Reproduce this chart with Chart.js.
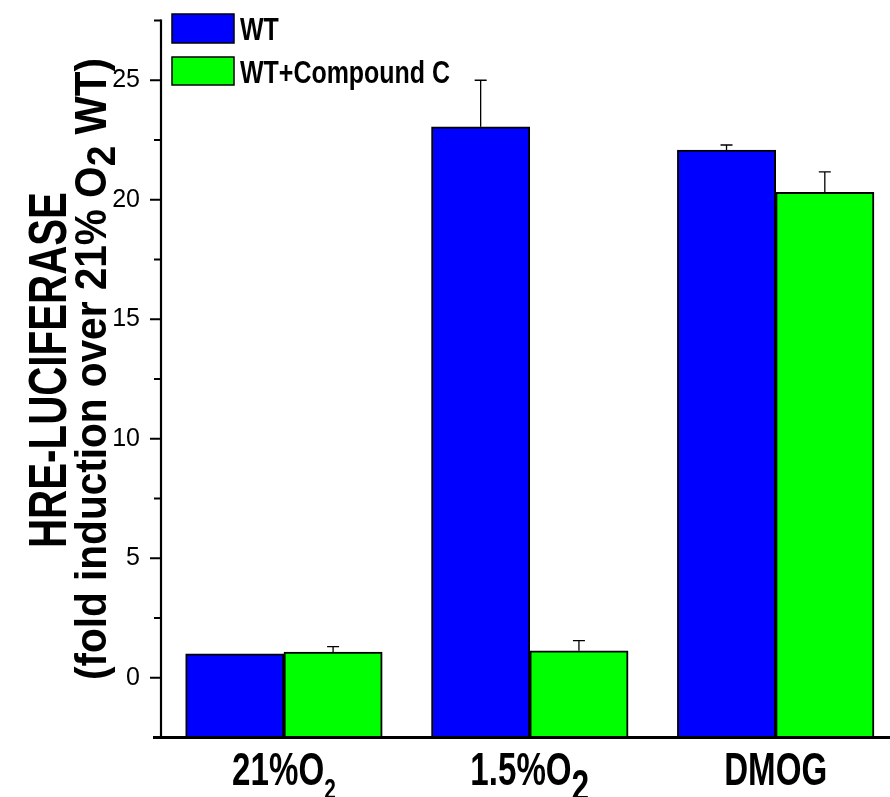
<!DOCTYPE html>
<html><head><meta charset="utf-8">
<script src="https://cdn.jsdelivr.net/npm/chart.js@4.4.0/dist/chart.umd.min.js"></script>
<style>html,body{margin:0;padding:0;background:#fff;overflow:hidden}#wrap{width:890px;height:797px;position:relative}</style>
</head><body><div id="wrap"><canvas id="c" width="890" height="797"></canvas></div>
<script>
// ---- data ----
const categories = [["21%O", "2"], ["1.5%O", "2"], ["DMOG", ""]];
const seriesNames = ["WT", "WT+Compound C"];
const wtValues = [1.0, 23.05, 22.08];
const wtErrors = [0, 1.95, 0.21];
const ccValues = [1.07, 1.13, 20.31];
const ccErrors = [0.23, 0.42, 0.86];
const majorTicks = [0, 5, 10, 15, 20, 25];
const minorTicks = [-2.5, 2.5, 7.5, 12.5, 17.5, 22.5, 27.5];
const yTitleLine1 = "HRE-LUCIFERASE";
const yTitleLine2 = ["(fold induction over 21% O", "2", " WT)"];

// ---- styles ----
const FONT = '"Liberation Sans", Arial, Helvetica, sans-serif';
const colors = ['#0000ff', '#00ff00'];
const subScale = [0.62, 0.95, 0];

function drawParts(ctx, parts, x, y, align, sx, fitLen) {
  let w = 0;
  parts.forEach(p => { ctx.font = 'bold ' + p.size + 'px ' + FONT; p.w = ctx.measureText(p.t).width; w += p.w; });
  if (fitLen) sx = fitLen / w;
  ctx.save();
  ctx.translate(x, y);
  ctx.scale(sx, 1);
  let cx = align === 'center' ? -w / 2 : 0;
  ctx.textAlign = 'left';
  ctx.textBaseline = 'alphabetic';
  parts.forEach(p => { ctx.font = 'bold ' + p.size + 'px ' + FONT; ctx.fillText(p.t, cx, p.dy); cx += p.w; });
  ctx.restore();
}

const customPlugin = {
  id: 'custom',
  afterDraw(chart) {
    const ctx = chart.ctx, ys = chart.scales.y, xs = chart.scales.x, ca = chart.chartArea;
    ctx.save();
    ctx.fillStyle = '#000';
    ctx.strokeStyle = '#000';
    // error bars
    [[wtValues, wtErrors], [ccValues, ccErrors]].forEach(([vals, errs], d) => {
      const meta = chart.getDatasetMeta(d);
      meta.data.forEach((bar, i) => {
        if (!errs[i]) return;
        const top = ys.getPixelForValue(vals[i] + errs[i]);
        ctx.lineWidth = 1.3;
        ctx.beginPath();
        ctx.moveTo(bar.x, bar.y); ctx.lineTo(bar.x, top);
        ctx.moveTo(bar.x - 6, top); ctx.lineTo(bar.x + 6, top);
        ctx.stroke();
      });
    });
    // axes
    const yBot = ys.getPixelForValue(minorTicks[0]), yTop = ys.getPixelForValue(minorTicks[minorTicks.length - 1]);
    ctx.lineWidth = 2.2;
    ctx.beginPath(); ctx.moveTo(ca.left, yTop - 1); ctx.lineTo(ca.left, yBot); ctx.stroke();
    ctx.lineWidth = 3;
    ctx.beginPath(); ctx.moveTo(ca.left - 8, yBot); ctx.lineTo(ca.right, yBot); ctx.stroke();
    // y ticks
    ctx.lineWidth = 2;
    majorTicks.forEach(v => { const p = ys.getPixelForValue(v); ctx.beginPath(); ctx.moveTo(ca.left - 11, p); ctx.lineTo(ca.left, p); ctx.stroke(); });
    minorTicks.forEach(v => { const p = ys.getPixelForValue(v); ctx.beginPath(); ctx.moveTo(ca.left - 7, p); ctx.lineTo(ca.left, p); ctx.stroke(); });
    // x labels
    ctx.fillStyle = '#000';
    categories.forEach((c, i) => {
      const px = xs.getPixelForValue(i);
      const parts = [{t: c[0], size: 46, dy: 0}];
      if (c[1]) parts.push({t: c[1], size: Math.round(46 * subScale[i]), dy: 10 + 6 * subScale[i]});
      drawParts(ctx, parts, px, 785, 'center', 0.72);
    });
    // y title
    ctx.save();
    ctx.translate(66, 370); ctx.rotate(-Math.PI / 2);
    drawParts(ctx, [{t: yTitleLine1, size: 54, dy: 0}], 0, 0, 'center', 1, 356);
    ctx.restore();
    ctx.save();
    ctx.translate(106, 369); ctx.rotate(-Math.PI / 2);
    drawParts(ctx, [{t: yTitleLine2[0], size: 45, dy: 0}, {t: yTitleLine2[1], size: 41, dy: 9}, {t: yTitleLine2[2], size: 45, dy: 0}], 0, 0, 'center', 1, 622);
    ctx.restore();
    // legend
    const boxes = [[172, 14, 62, 29], [172, 57, 62, 28]];
    seriesNames.forEach((n, i) => {
      const b = boxes[i];
      ctx.fillStyle = colors[i];
      ctx.fillRect(b[0], b[1], b[2], b[3]);
      ctx.lineWidth = 1.5; ctx.strokeStyle = '#000';
      ctx.strokeRect(b[0], b[1], b[2], b[3]);
      ctx.fillStyle = '#000';
      drawParts(ctx, [{t: n, size: 32, dy: 0}], 240, b[1] + 25.5, 'left', 0.78);
    });
    ctx.restore();
  }
};

const mk = (vals) => vals.map((v, i) => ({x: i, y: v}));

new Chart(document.getElementById('c'), {
  type: 'bar',
  data: {
    datasets: [
      {label: seriesNames[0], data: mk(wtValues), backgroundColor: colors[0], borderColor: '#000', borderWidth: 2, base: -2.5, barThickness: 98.3},
      {label: seriesNames[1], data: mk(ccValues), backgroundColor: colors[1], borderColor: '#000', borderWidth: 2, base: -2.5, barThickness: 98.3}
    ]
  },
  options: {
    responsive: false,
    animation: false,
    devicePixelRatio: 1,
    layout: {padding: {top: 20.5, right: 0, left: 0, bottom: 0}},
    plugins: {legend: {display: false}, tooltip: {enabled: false}},
    scales: {
      x: {
        type: 'linear', min: -0.5, max: 2.465, offset: false,
        ticks: {display: false, stepSize: 1, includeBounds: false},
        grid: {display: false, offset: false}, border: {display: false},
        afterFit: s => { s.height = 59.5; s.paddingLeft = 0; s.paddingRight = 0; }
      },
      y: {
        min: -2.5, max: 27.5,
        afterBuildTicks: s => { s.ticks = majorTicks.map(v => ({value: v})); },
        ticks: {color: '#000', padding: 21, font: {family: FONT, size: 25}},
        grid: {display: false, drawTicks: false}, border: {display: false},
        afterFit: s => { s.width = 161; s.paddingTop = 0; s.paddingBottom = 0; }
      }
    }
  },
  plugins: [customPlugin]
});
</script>
</body></html>
